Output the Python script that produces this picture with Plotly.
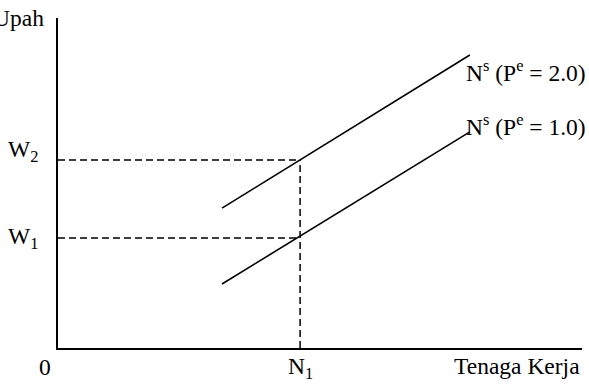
import plotly.graph_objects as go

# data (arbitrary units on 0..100 axes)
supply_hi_x = [31.3, 78.6]
supply_hi_y = [42.4, 88.8]
supply_lo_x = [31.3, 78.6]
supply_lo_y = [19.4, 65.5]
n1 = 46.2
w1 = 33.3
w2 = 57.0
labels_supply = ["N<sup>s</sup> (P<sup>e</sup> = 2.0)", "N<sup>s</sup> (P<sup>e</sup> = 1.0)"]

FONT = "Liberation Serif, Times New Roman, serif"
fig = go.Figure()

dash = dict(color="black", width=1.5, dash="7px,4px")
fig.add_trace(go.Scatter(x=[0, n1], y=[w2, w2], mode="lines", line=dash, hoverinfo="skip"))
fig.add_trace(go.Scatter(x=[0, n1], y=[w1, w1], mode="lines", line=dash, hoverinfo="skip"))
fig.add_trace(go.Scatter(x=[n1, n1], y=[0, w2], mode="lines", line=dash, hoverinfo="skip"))

solid = dict(color="black", width=1.6)
fig.add_trace(go.Scatter(x=supply_hi_x, y=supply_hi_y, mode="lines", line=solid, hoverinfo="skip"))
fig.add_trace(go.Scatter(x=supply_lo_x, y=supply_lo_y, mode="lines", line=solid, hoverinfo="skip"))

f = dict(family=FONT, size=23.5, color="black")
ann = []
ann.append(dict(x=0, y=100, text="Upah", xanchor="right", yanchor="middle", xshift=-12, showarrow=False, font=f))
ann.append(dict(x=0, y=0, text="0", xanchor="center", yanchor="top", xshift=-13, yshift=-4, showarrow=False, font=f))
ann.append(dict(x=n1, y=0, text="N<sub>1</sub>", xanchor="center", yanchor="top", yshift=-3, showarrow=False, font=f))
ann.append(dict(x=100, y=0, text="Tenaga Kerja", xanchor="right", yanchor="top", yshift=-3, showarrow=False, font=f))
ann.append(dict(x=0, y=w2, text="W<sub>2</sub>", xanchor="right", yanchor="middle", xshift=-18, yshift=9, showarrow=False, font=f))
ann.append(dict(x=0, y=w1, text="W<sub>1</sub>", xanchor="right", yanchor="middle", xshift=-18, yshift=0, showarrow=False, font=f))
ann.append(dict(x=77.4, y=supply_hi_y[1], text=labels_supply[0], xanchor="left", yanchor="middle", yshift=-16, showarrow=False, font=f))
ann.append(dict(x=77.4, y=supply_lo_y[1], text=labels_supply[1], xanchor="left", yanchor="middle", yshift=7, showarrow=False, font=f))

fig.update_layout(
    width=589, height=388,
    margin=dict(l=58, r=7, t=18, b=40),
    paper_bgcolor="white", plot_bgcolor="white",
    showlegend=False,
    annotations=ann,
    xaxis=dict(range=[0, 100], showgrid=False, zeroline=False, showticklabels=False,
               showline=True, linecolor="black", linewidth=2, ticks=""),
    yaxis=dict(range=[0, 100], showgrid=False, zeroline=False, showticklabels=False,
               showline=True, linecolor="black", linewidth=2, ticks=""),
)
fig.write_html("out.html")
